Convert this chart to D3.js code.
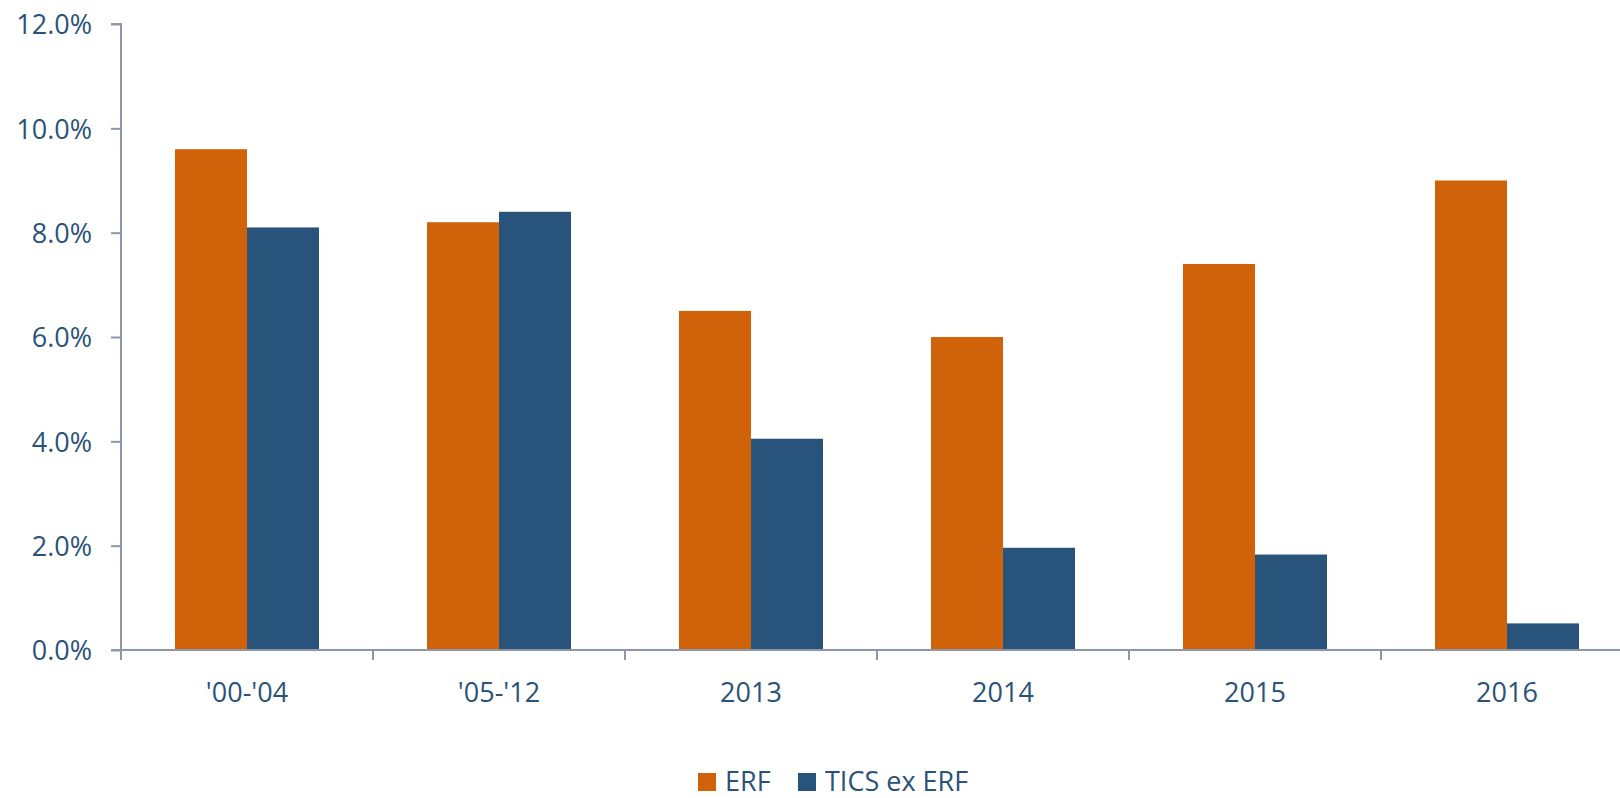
<!DOCTYPE html>
<html>
<head>
<meta charset="utf-8">
<script src="https://cdn.jsdelivr.net/npm/d3@7"></script>
<style>
html,body{margin:0;padding:0;background:#fff;overflow:hidden;}
svg{display:block;}
</style>
</head>
<body>
<svg id="chart" width="1620" height="798"></svg>
<script>
const categories = ["'00-'04", "'05-'12", "2013", "2014", "2015", "2016"];
const seriesNames = ["ERF", "TICS ex ERF"];
const erf = [9.6, 8.2, 6.5, 6.0, 7.4, 9.0];
const tics = [8.1, 8.4, 4.05, 1.96, 1.83, 0.51];
const yTicks = [0, 2, 4, 6, 8, 10, 12];
const colors = ["#D06309", "#28547B"];

(function () {
const textColor = "#2B5279";
const axisColor = "#8D97A9";
const font = "'Open Sans', sans-serif";
const fontSize = 27;

const svg = d3.select("#chart");
const mLeft = 121, mRight = 1633, mTop = 24, mBottom = 650;

const x = d3.scaleBand().domain(categories).range([mLeft, mRight]).paddingInner(0).paddingOuter(0);
const x1 = d3.scaleBand().domain(seriesNames).range([54, x.bandwidth() - 54]);
const y = d3.scaleLinear().domain([0, 12]).range([mBottom, mTop]);

const data = categories.map((c, i) => ({cat: c, vals: [erf[i], tics[i]]}));

// bars
const g = svg.append("g");
g.selectAll("g.cat").data(data).join("g")
  .attr("class", "cat")
  .attr("transform", d => `translate(${x(d.cat)},0)`)
  .selectAll("rect").data(d => d.vals.map((v, j) => ({s: seriesNames[j], v, j})))
  .join("rect")
  .attr("x", d => x1(d.s))
  .attr("width", x1.bandwidth())
  .attr("y", d => y(d.v))
  .attr("height", d => y(0) - y(d.v))
  .attr("fill", d => colors[d.j]);

// y axis
const yAxis = d3.axisLeft(y).tickValues(yTicks).tickSize(10).tickPadding(19)
  .tickFormat(d => d3.format(".1f")(d) + "%");
const yg = svg.append("g").attr("transform", `translate(${mLeft},0)`).call(yAxis);
yg.select(".domain").attr("stroke", axisColor).attr("stroke-width", 2).attr("d", `M-10,${mTop}H0V${mBottom}`);
yg.selectAll(".tick line").attr("stroke", axisColor).attr("stroke-width", 2);
yg.selectAll(".tick text").attr("fill", textColor).attr("font-family", font).attr("font-size", fontSize).attr("dy", "0.36em");

// x axis
const boundaries = categories.map(c => x(c)).concat([mRight]);
svg.append("line").attr("x1", mLeft - 10).attr("x2", 1620).attr("y1", mBottom).attr("y2", mBottom)
  .attr("stroke", axisColor).attr("stroke-width", 2);
svg.append("g").selectAll("line").data(boundaries).join("line")
  .attr("x1", d => d).attr("x2", d => d).attr("y1", mBottom).attr("y2", mBottom + 10)
  .attr("stroke", axisColor).attr("stroke-width", 2);
svg.append("g").selectAll("text").data(categories).join("text")
  .attr("x", d => x(d) + x.bandwidth() / 2)
  .attr("y", 702)
  .attr("text-anchor", "middle")
  .attr("fill", textColor).attr("font-family", font).attr("font-size", fontSize)
  .text(d => d);

// legend
const legendX = [698, 798];
const lg = svg.append("g");
seriesNames.forEach((s, i) => {
  lg.append("rect").attr("x", legendX[i]).attr("y", 773).attr("width", 18).attr("height", 18).attr("fill", colors[i]);
  lg.append("text").attr("x", legendX[i] + 27).attr("y", 791)
    .attr("fill", textColor).attr("font-family", font).attr("font-size", fontSize).text(s);
});
})();
</script>
</body>
</html>
